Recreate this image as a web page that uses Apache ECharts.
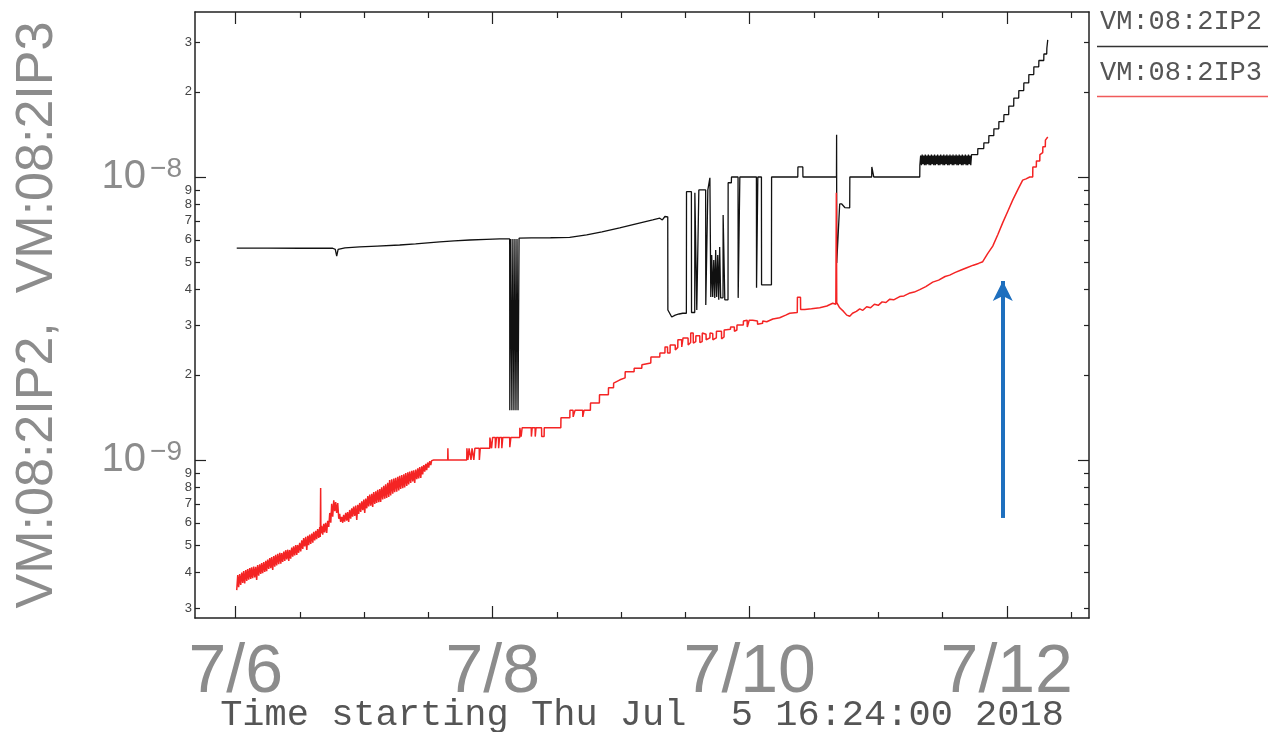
<!DOCTYPE html>
<html><head><meta charset="utf-8">
<script src="https://cdn.jsdelivr.net/npm/echarts@6/dist/echarts.min.js"></script>
<style>html,body{margin:0;padding:0;background:#fff;overflow:hidden}#c{position:absolute;left:0;top:0;width:1268px;height:732px}</style>
</head><body><div id="c"></div>
<script>
// ---------- data (x = day of July 2018, y = pressure value) ----------
const seriesNames = ['VM:08:2IP2', 'VM:08:2IP3'];
const xTitle = 'Time starting Thu Jul  5 16:24:00 2018';
const xRange = [5.6833, 12.64];
const yRange = [2.765e-10, 3.828e-8];
const xMajorTicks = [6, 8, 10, 12];
const xTickLabels = ['7/6', '7/8', '7/10', '7/12'];
const xMinorTicks = [6.5, 7, 7.5, 8.5, 9, 9.5, 10.5, 11, 11.5, 12.5];
const yMajorTicks = [1e-9, 1e-8];
const yMinorTicks = [3e-10, 4e-10, 5e-10, 6e-10, 7e-10, 8e-10, 9e-10, 2e-9, 3e-9, 4e-9, 5e-9, 6e-9, 7e-9, 8e-9, 9e-9, 2e-8, 3e-8];
const arrowDay = 11.969;
const arrowFrom = 6.24e-10;
const arrowTo = 4.29e-9;

const ip2Data = [
[6.008,5.61e-9],[6.250,5.61e-9],[6.500,5.60e-9],[6.755,5.60e-9],[6.775,5.55e-9],[6.786,5.25e-9],[6.797,5.55e-9],[6.850,5.62e-9],
[6.965,5.66e-9],[7.100,5.70e-9],[7.276,5.75e-9],[7.400,5.80e-9],[7.588,5.90e-9],[7.700,5.95e-9],[7.821,5.99e-9],[7.950,6.02e-9],
[8.054,6.04e-9],[8.132,6.04e-9],[8.133,1.50e-9],[8.140,1.50e-9],[8.141,6.04e-9],[8.148,6.04e-9],[8.149,1.50e-9],[8.156,1.50e-9],
[8.157,6.04e-9],[8.164,6.04e-9],[8.165,1.50e-9],[8.172,1.50e-9],[8.173,6.04e-9],[8.180,6.04e-9],[8.181,1.50e-9],[8.188,1.50e-9],
[8.189,6.04e-9],[8.196,6.04e-9],[8.197,1.50e-9],[8.204,1.50e-9],[8.205,6.08e-9],[8.300,6.09e-9],[8.450,6.10e-9],[8.599,6.12e-9],
[8.731,6.24e-9],[8.850,6.40e-9],[8.988,6.61e-9],[9.100,6.80e-9],[9.245,7.05e-9],[9.300,7.15e-9],[9.320,7.05e-9],[9.340,7.25e-9],
[9.362,7.23e-9],[9.363,3.39e-9],[9.393,3.20e-9],[9.420,3.25e-9],[9.450,3.28e-9],[9.479,3.30e-9],[9.507,3.30e-9],[9.508,8.87e-9],
[9.546,8.87e-9],[9.547,3.32e-9],[9.572,3.32e-9],[9.573,8.80e-9],[9.587,8.80e-9],[9.588,3.39e-9],[9.603,3.39e-9],[9.604,9.00e-9],
[9.657,9.00e-9],[9.658,3.53e-9],[9.673,3.53e-9],[9.674,9.00e-9],[9.689,9.00e-9],[9.690,9.93e-9],[9.696,9.93e-9],[9.697,3.77e-9],
[9.704,5.30e-9],[9.712,3.77e-9],[9.720,5.09e-9],[9.728,3.74e-9],[9.735,5.52e-9],[9.743,3.77e-9],[9.751,5.30e-9],[9.759,3.68e-9],
[9.766,5.66e-9],[9.774,3.74e-9],[9.792,3.74e-9],[9.793,7.34e-9],[9.805,7.34e-9],[9.806,3.68e-9],[9.831,3.68e-9],[9.832,9.54e-9],
[9.857,9.54e-9],[9.858,1.00e-8],[9.909,1.00e-8],[9.910,3.74e-9],[9.922,3.74e-9],[9.923,1.00e-8],[10.052,1.00e-8],[10.053,4.06e-9],
[10.062,4.06e-9],[10.063,1.00e-8],[10.091,1.00e-8],[10.092,4.16e-9],[10.169,4.16e-9],[10.170,1.00e-8],[10.374,1.00e-8],[10.375,1.085e-8],
[10.413,1.085e-8],[10.414,1.00e-8],[10.675,1.00e-8],[10.676,1.41e-8],[10.677,4.97e-9],[10.690,4.97e-9],[10.700,8.03e-9],[10.716,8.03e-9],
[10.740,7.80e-9],[10.778,7.78e-9],[10.779,1.00e-8],[10.949,1.00e-8],[10.950,1.085e-8],[10.965,1.00e-8],[11.323,1.00e-8],
[11.324,1.10e-8],[11.330,1.19e-8],[11.336,1.10e-8],[11.342,1.20e-8],[11.348,1.11e-8],[11.354,1.19e-8],[11.360,1.10e-8],[11.366,1.20e-8],
[11.372,1.10e-8],[11.378,1.19e-8],[11.384,1.11e-8],[11.390,1.20e-8],[11.396,1.10e-8],[11.402,1.19e-8],[11.408,1.10e-8],[11.414,1.20e-8],
[11.420,1.11e-8],[11.426,1.19e-8],[11.432,1.10e-8],[11.438,1.20e-8],[11.444,1.10e-8],[11.450,1.19e-8],[11.456,1.11e-8],[11.462,1.20e-8],
[11.468,1.10e-8],[11.474,1.19e-8],[11.480,1.10e-8],[11.486,1.20e-8],[11.492,1.11e-8],[11.498,1.19e-8],[11.504,1.10e-8],[11.510,1.20e-8],
[11.516,1.10e-8],[11.522,1.19e-8],[11.528,1.11e-8],[11.534,1.20e-8],[11.540,1.10e-8],[11.546,1.19e-8],[11.552,1.10e-8],[11.558,1.20e-8],
[11.564,1.11e-8],[11.570,1.19e-8],[11.576,1.10e-8],[11.582,1.20e-8],[11.588,1.10e-8],[11.594,1.19e-8],[11.600,1.11e-8],[11.606,1.20e-8],
[11.612,1.10e-8],[11.618,1.19e-8],[11.624,1.10e-8],[11.630,1.20e-8],[11.636,1.11e-8],[11.642,1.19e-8],[11.648,1.10e-8],[11.654,1.20e-8],
[11.660,1.10e-8],[11.666,1.19e-8],[11.672,1.11e-8],[11.678,1.20e-8],[11.684,1.10e-8],[11.690,1.19e-8],[11.696,1.10e-8],[11.702,1.20e-8],
[11.708,1.11e-8],[11.714,1.19e-8],[11.720,1.10e-8],[11.726,1.20e-8],[11.732,1.20e-8],[11.774,1.20e-8],[11.775,1.26e-8],[11.821,1.26e-8],
[11.822,1.32e-8],[11.860,1.32e-8],[11.861,1.40e-8],[11.899,1.40e-8],[11.900,1.48e-8],[11.938,1.48e-8],[11.939,1.57e-8],[11.977,1.57e-8],
[11.978,1.66e-8],[12.015,1.66e-8],[12.016,1.78e-8],[12.054,1.78e-8],[12.055,1.90e-8],[12.093,1.90e-8],[12.094,2.02e-8],[12.132,2.02e-8],
[12.133,2.15e-8],[12.171,2.15e-8],[12.172,2.30e-8],[12.210,2.30e-8],[12.211,2.45e-8],[12.249,2.45e-8],[12.250,2.58e-8],[12.288,2.58e-8],
[12.289,2.72e-8],[12.311,2.72e-8],[12.312,2.85e-8],[12.318,2.85e-8],[12.319,3.05e-8]
];

const ip3Data = [
[6.008,3.47e-10],[6.016,3.92e-10],[6.023,3.55e-10],[6.031,3.95e-10],[6.039,3.62e-10],[6.047,4.00e-10],[6.055,3.68e-10],[6.062,4.05e-10],
[6.070,3.66e-10],[6.078,4.08e-10],[6.086,3.74e-10],[6.093,4.12e-10],[6.101,3.78e-10],[6.109,4.15e-10],[6.117,3.80e-10],[6.124,4.18e-10],
[6.132,3.82e-10],[6.140,4.20e-10],[6.148,3.85e-10],[6.156,4.19e-10],[6.163,3.77e-10],[6.171,4.25e-10],[6.179,3.90e-10],[6.187,4.28e-10],
[6.195,3.96e-10],[6.202,4.32e-10],[6.210,3.98e-10],[6.218,4.36e-10],[6.226,4.02e-10],[6.234,4.40e-10],[6.241,4.05e-10],[6.249,4.45e-10],
[6.257,4.12e-10],[6.265,4.50e-10],[6.273,4.15e-10],[6.280,4.54e-10],[6.288,4.09e-10],[6.296,4.58e-10],[6.304,4.20e-10],[6.311,4.62e-10],
[6.319,4.24e-10],[6.327,4.66e-10],[6.335,4.28e-10],[6.343,4.70e-10],[6.351,4.30e-10],[6.358,4.69e-10],[6.366,4.36e-10],[6.374,4.75e-10],
[6.382,4.40e-10],[6.389,4.80e-10],[6.397,4.45e-10],[6.405,4.82e-10],[6.413,4.40e-10],[6.420,4.81e-10],[6.428,4.48e-10],[6.436,4.90e-10],
[6.444,4.55e-10],[6.451,4.95e-10],[6.459,4.60e-10],[6.467,5.00e-10],[6.475,4.62e-10],[6.482,5.01e-10],[6.490,4.70e-10],[6.498,5.10e-10],
[6.506,4.75e-10],[6.514,5.20e-10],[6.522,4.85e-10],[6.529,5.30e-10],[6.537,4.95e-10],[6.545,5.35e-10],[6.553,4.81e-10],[6.561,5.40e-10],
[6.568,5.00e-10],[6.576,5.45e-10],[6.584,5.05e-10],[6.592,5.50e-10],[6.600,5.10e-10],[6.607,5.57e-10],[6.615,5.20e-10],[6.623,5.62e-10],
[6.630,5.25e-10],[6.638,5.70e-10],[6.646,5.30e-10],[6.654,5.80e-10],[6.658,5.35e-10],[6.661,7.97e-10],[6.663,5.50e-10],[6.669,5.85e-10],
[6.677,5.45e-10],[6.685,5.95e-10],[6.692,5.55e-10],[6.700,6.00e-10],[6.708,5.52e-10],[6.716,6.10e-10],[6.724,5.80e-10],[6.732,6.50e-10],
[6.740,6.00e-10],[6.747,7.00e-10],[6.755,6.30e-10],[6.763,7.20e-10],[6.771,6.60e-10],[6.778,7.10e-10],[6.786,6.50e-10],[6.794,7.05e-10],
[6.802,6.20e-10],[6.809,6.45e-10],[6.817,6.04e-10],[6.825,6.30e-10],[6.833,6.00e-10],[6.840,6.40e-10],[6.848,6.05e-10],[6.856,6.50e-10],
[6.864,6.10e-10],[6.871,6.55e-10],[6.879,6.04e-10],[6.887,6.66e-10],[6.895,6.20e-10],[6.903,6.75e-10],[6.910,6.30e-10],[6.918,6.85e-10],
[6.926,6.35e-10],[6.934,6.90e-10],[6.942,6.14e-10],[6.950,6.95e-10],[6.957,6.45e-10],[6.965,7.05e-10],[6.973,6.55e-10],[6.981,7.15e-10],
[6.989,6.65e-10],[6.997,7.25e-10],[7.004,6.50e-10],[7.012,7.30e-10],[7.020,6.75e-10],[7.028,7.45e-10],[7.035,6.85e-10],[7.043,7.55e-10],
[7.051,6.90e-10],[7.059,7.60e-10],[7.066,6.83e-10],[7.074,7.70e-10],[7.082,7.00e-10],[7.090,7.75e-10],[7.097,7.05e-10],[7.105,7.85e-10],
[7.113,7.10e-10],[7.121,7.90e-10],[7.128,7.11e-10],[7.136,8.00e-10],[7.144,7.25e-10],[7.152,8.10e-10],[7.160,7.30e-10],[7.167,8.20e-10],
[7.175,7.35e-10],[7.183,8.30e-10],[7.191,7.40e-10],[7.198,8.50e-10],[7.206,7.50e-10],[7.214,8.55e-10],[7.222,7.60e-10],[7.230,8.60e-10],
[7.237,7.70e-10],[7.245,8.65e-10],[7.253,7.72e-10],[7.261,8.72e-10],[7.269,7.80e-10],[7.276,8.80e-10],[7.284,7.90e-10],[7.292,8.85e-10],
[7.300,7.95e-10],[7.308,8.90e-10],[7.315,8.00e-10],[7.323,9.00e-10],[7.331,8.10e-10],[7.339,9.05e-10],[7.346,8.20e-10],[7.354,9.10e-10],
[7.362,8.30e-10],[7.370,9.15e-10],[7.378,8.40e-10],[7.385,9.20e-10],[7.393,8.30e-10],[7.401,9.25e-10],[7.409,8.55e-10],[7.417,9.35e-10],
[7.424,8.60e-10],[7.432,9.45e-10],[7.440,8.64e-10],[7.448,9.50e-10],[7.455,8.90e-10],[7.463,9.60e-10],[7.471,9.10e-10],[7.479,9.70e-10],
[7.486,9.20e-10],[7.494,9.80e-10],[7.502,9.40e-10],[7.510,9.90e-10],[7.518,9.60e-10],[7.525,9.95e-10],[7.533,9.80e-10],[7.541,1.00e-9],
[7.549,9.95e-10],[7.564,1.00e-9],
[7.650,1.00e-9],[7.651,1.10e-9],[7.653,1.00e-9],[7.798,1.00e-9],[7.799,1.10e-9],[7.806,1.10e-9],[7.807,1.00e-9],[7.815,1.00e-9],
[7.816,1.10e-9],[7.830,1.10e-9],[7.831,1.00e-9],[7.838,1.00e-9],[7.839,1.10e-9],[7.852,1.10e-9],[7.853,1.00e-9],[7.860,1.00e-9],
[7.861,1.10e-9],[7.895,1.10e-9],[7.896,1.00e-9],[7.902,1.00e-9],[7.903,1.10e-9],[7.977,1.10e-9],[7.978,1.20e-9],[7.990,1.20e-9],
[7.991,1.10e-9],[7.998,1.10e-9],[7.999,1.20e-9],[8.020,1.20e-9],[8.021,1.10e-9],[8.028,1.10e-9],[8.029,1.20e-9],[8.045,1.20e-9],
[8.046,1.10e-9],[8.052,1.10e-9],[8.053,1.20e-9],[8.070,1.20e-9],[8.071,1.10e-9],[8.077,1.10e-9],[8.078,1.20e-9],[8.132,1.20e-9],
[8.133,1.11e-9],[8.140,1.11e-9],[8.141,1.20e-9],[8.210,1.20e-9],[8.211,1.30e-9],[8.220,1.30e-9],[8.221,1.21e-9],[8.228,1.21e-9],
[8.229,1.30e-9],[8.300,1.30e-9],[8.301,1.21e-9],[8.306,1.21e-9],[8.307,1.30e-9],[8.330,1.30e-9],[8.331,1.21e-9],[8.336,1.21e-9],
[8.337,1.30e-9],[8.380,1.30e-9],[8.381,1.21e-9],[8.400,1.21e-9],[8.401,1.30e-9],[8.530,1.30e-9],[8.531,1.41e-9],[8.600,1.41e-9],
[8.601,1.50e-9],[8.625,1.50e-9],[8.626,1.42e-9],[8.640,1.42e-9],[8.641,1.50e-9],[8.700,1.50e-9],[8.701,1.42e-9],[8.710,1.42e-9],
[8.711,1.50e-9],[8.760,1.50e-9],[8.761,1.59e-9],[8.830,1.59e-9],[8.831,1.70e-9],[8.900,1.70e-9],[8.901,1.80e-9],[8.940,1.80e-9],
[8.941,1.87e-9],[8.990,1.92e-9],[9.030,1.95e-9],[9.031,2.05e-9],[9.100,2.05e-9],[9.101,2.11e-9],[9.160,2.11e-9],[9.161,2.17e-9],
[9.230,2.20e-9],[9.231,2.31e-9],[9.300,2.31e-9],[9.301,2.39e-9],[9.340,2.39e-9],[9.341,2.51e-9],[9.360,2.51e-9],[9.361,2.39e-9],
[9.380,2.39e-9],[9.381,2.55e-9],[9.420,2.55e-9],[9.421,2.45e-9],[9.440,2.50e-9],[9.441,2.66e-9],[9.470,2.66e-9],[9.471,2.51e-9],
[9.480,2.51e-9],[9.481,2.70e-9],[9.520,2.70e-9],[9.521,2.55e-9],[9.540,2.60e-9],[9.541,2.81e-9],[9.560,2.81e-9],[9.561,2.59e-9],
[9.580,2.62e-9],[9.581,2.75e-9],[9.611,2.75e-9],[9.612,2.60e-9],[9.630,2.62e-9],[9.631,2.81e-9],[9.660,2.78e-9],[9.661,2.66e-9],
[9.690,2.70e-9],[9.691,2.81e-9],[9.712,2.80e-9],[9.713,2.66e-9],[9.740,2.70e-9],[9.741,2.85e-9],[9.780,2.85e-9],[9.781,2.68e-9],
[9.800,2.72e-9],[9.801,2.88e-9],[9.850,2.90e-9],[9.851,2.95e-9],[9.880,2.95e-9],[9.881,2.85e-9],[9.900,2.88e-9],[9.901,3.00e-9],
[9.950,3.00e-9],[9.951,3.10e-9],[9.980,3.12e-9],[9.981,2.95e-9],[9.995,2.95e-9],[9.996,3.12e-9],[10.023,3.12e-9],[10.060,3.10e-9],
[10.061,3.02e-9],[10.100,3.04e-9],[10.101,3.10e-9],[10.132,3.08e-9],[10.180,3.15e-9],[10.181,3.10e-9],[10.233,3.18e-9],[10.280,3.25e-9],
[10.311,3.30e-9],[10.370,3.32e-9],[10.371,3.76e-9],[10.395,3.76e-9],[10.396,3.40e-9],[10.428,3.40e-9],[10.480,3.42e-9],[10.545,3.45e-9],
[10.600,3.50e-9],[10.646,3.58e-9],[10.670,3.55e-9],[10.674,8.80e-9],[10.677,3.60e-9],[10.700,3.45e-9],[10.730,3.35e-9],[10.755,3.25e-9],
[10.778,3.22e-9],[10.800,3.30e-9],[10.830,3.35e-9],[10.856,3.42e-9],[10.880,3.38e-9],[10.910,3.48e-9],[10.940,3.45e-9],[10.970,3.55e-9],
[11.000,3.52e-9],[11.030,3.62e-9],[11.060,3.60e-9],[11.090,3.70e-9],[11.120,3.68e-9],[11.167,3.78e-9],[11.200,3.80e-9],[11.240,3.88e-9],
[11.280,3.92e-9],[11.323,4.00e-9],[11.370,4.10e-9],[11.424,4.25e-9],[11.470,4.32e-9],[11.520,4.45e-9],[11.556,4.50e-9],[11.600,4.60e-9],
[11.650,4.70e-9],[11.689,4.78e-9],[11.740,4.88e-9],[11.780,4.95e-9],[11.813,5.02e-9],[11.850,5.35e-9],[11.891,5.70e-9],[11.930,6.25e-9],
[11.969,6.90e-9],[12.010,7.60e-9],[12.047,8.30e-9],[12.090,9.10e-9],[12.124,9.75e-9],[12.150,9.85e-9],[12.179,1.00e-8],[12.202,1.00e-8],
[12.203,1.085e-8],[12.230,1.085e-8],[12.231,1.14e-8],[12.257,1.14e-8],[12.258,1.20e-8],[12.280,1.22e-8],[12.281,1.28e-8],[12.300,1.28e-8],
[12.301,1.35e-8],[12.319,1.385e-8]
];

// ---------- chart ----------
const W = 1268, H = 732;
const lg = v => Math.log10(v);
const toLog = arr => arr.map(p => [p[0], lg(p[1])]);
const GRAY = '#8c8c8c';
const AX = '#222';

function xAxisDef(pos, ticks, len, showLine, withLabels) {
  const a = {
    type: 'value', position: pos, min: xRange[0], max: xRange[1],
    splitLine: { show: false },
    axisLine: { show: showLine, onZero: false, lineStyle: { color: AX, width: 1.5 } },
    axisTick: { show: true, inside: true, length: len, customValues: ticks, lineStyle: { color: AX, width: 1.2 } },
    axisLabel: { show: false }
  };
  if (withLabels) {
    a.axisLabel = {
      show: true, customValues: xMajorTicks, margin: 21,
      formatter: v => xTickLabels[xMajorTicks.indexOf(Math.round(v))] || '',
      fontFamily: '"Liberation Sans",sans-serif', fontSize: 68, color: GRAY
    };
    a.name = xTitle;
    a.nameLocation = 'middle';
    a.nameGap = 79;
    a.nameMoveOverlap = false;
    a.nameTextStyle = { fontFamily: '"Liberation Mono",monospace', fontSize: 37, color: '#555' };
  }
  return a;
}
function yAxisDef(pos, ticks, len, showLine, labelKind) {
  const a = {
    type: 'value', position: pos, min: lg(yRange[0]), max: lg(yRange[1]),
    splitLine: { show: false },
    axisLine: { show: showLine, onZero: false, lineStyle: { color: AX, width: 1.5 } },
    axisTick: { show: true, inside: true, length: len, customValues: ticks.map(lg), lineStyle: { color: AX, width: 1.2 } },
    axisLabel: { show: false }
  };
  if (labelKind === 'major') {
    a.axisLabel = {
      show: true, customValues: ticks.map(lg), margin: 13,
      formatter: v => '{b|10}{s|\u2212' + Math.abs(Math.round(v)) + '}',
      rich: {
        b: { fontFamily: '"Liberation Sans",sans-serif', fontSize: 40, color: GRAY },
        s: { fontFamily: '"Liberation Sans",sans-serif', fontSize: 28, color: GRAY, padding: [0, 0, 16, 4] }
      }
    };
    a.name = seriesNames[0] + ',  ' + seriesNames[1];
    a.nameLocation = 'middle';
    a.nameGap = 131;
    a.nameMoveOverlap = false;
    a.nameTextStyle = { fontFamily: '"Liberation Sans",sans-serif', fontSize: 52, color: GRAY };
  } else if (labelKind === 'minor') {
    a.axisLabel = {
      show: true, customValues: ticks.map(lg), margin: 3,
      formatter: v => String(Math.round(Math.pow(10, v - Math.floor(v + 1e-9)))),
      fontFamily: '"Liberation Sans",sans-serif', fontSize: 13, color: '#444'
    };
  }
  return a;
}

const chart = echarts.init(document.getElementById('c'), null, { renderer: 'canvas', width: W, height: H });
chart.setOption({
  animation: false,
  backgroundColor: '#fff',
  grid: { left: 195, right: 179, top: 12, bottom: 114, containLabel: false, outerBoundsMode: 'none' },
  xAxis: [
    xAxisDef('bottom', xMajorTicks, 12, true, true),
    xAxisDef('bottom', xMinorTicks, 6, false, false),
    xAxisDef('top', xMajorTicks, 12, true, false),
    xAxisDef('top', xMinorTicks, 6, false, false)
  ],
  yAxis: [
    yAxisDef('left', yMajorTicks, 11, true, 'major'),
    yAxisDef('left', yMinorTicks, 5, false, 'minor'),
    yAxisDef('right', yMajorTicks, 11, true, null),
    yAxisDef('right', yMinorTicks, 5, false, null)
  ],
  graphic: [
    { type: 'text', x: 1100, y: 22, style: { text: seriesNames[0], font: '27px "Liberation Mono",monospace', fill: '#555', verticalAlign: 'middle' } },
    { type: 'line', shape: { x1: 1097, y1: 46.5, x2: 1268, y2: 46.5 }, style: { stroke: '#333', lineWidth: 1.5 } },
    { type: 'text', x: 1100, y: 73, style: { text: seriesNames[1], font: '27px "Liberation Mono",monospace', fill: '#555', verticalAlign: 'middle' } },
    { type: 'line', shape: { x1: 1097, y1: 96.5, x2: 1268, y2: 96.5 }, style: { stroke: '#f05a5a', lineWidth: 1.5 } }
  ],
  series: [
    {
      name: seriesNames[0], type: 'line', xAxisIndex: 0, yAxisIndex: 0,
      data: toLog(ip2Data), showSymbol: false, symbol: 'none',
      lineStyle: { color: '#111', width: 1.3 }, itemStyle: { color: '#111' }, silent: true
    },
    {
      name: seriesNames[1], type: 'line', xAxisIndex: 0, yAxisIndex: 0,
      data: toLog(ip3Data), showSymbol: false, symbol: 'none',
      lineStyle: { color: '#f42424', width: 1.5 }, itemStyle: { color: '#f42424' }, silent: true,
      markLine: {
        silent: true, symbol: ['none', 'arrow'], symbolSize: [15, 20], label: { show: false },
        lineStyle: { color: '#1e6fbe', width: 4, type: 'solid' },
        emphasis: { disabled: true },
        data: [[{ coord: [arrowDay, lg(arrowFrom)] }, { coord: [arrowDay, lg(arrowTo)] }]]
      }
    }
  ]
});
</script></body></html>
